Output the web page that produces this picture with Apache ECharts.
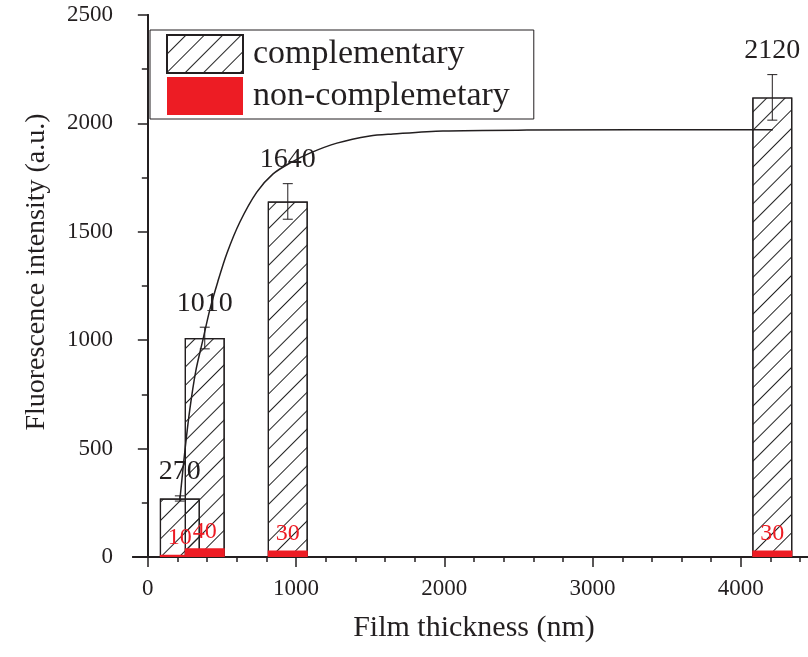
<!DOCTYPE html>
<html>
<head>
<meta charset="utf-8">
<title>Fluorescence intensity vs film thickness</title>
<script src="https://cdn.jsdelivr.net/npm/echarts@6/dist/echarts.min.js"></script>
<style>
  html, body { margin: 0; padding: 0; background: #fff; }
  #chart { width: 808px; height: 657px; }
</style>
</head>
<body>
<div id="chart"></div>
<script>
// film thickness of each sample (nm)
var thickness = [216, 384, 944, 4212];
// hatched bars + their error
var complementary = [270, 1010, 1640, 2120];
var complementaryErr = [12, 50, 82, 105];
// red bars
var nonComplementary = [10, 40, 30, 30];
// fitted curve, points
var fitX = [216, 250, 283, 324, 371, 418, 472, 533, 621, 735, 843, 958, 1093, 1275, 1497, 1653, 1990, 2557, 4216];
var fitY = [263, 490, 680, 860, 1000, 1140, 1270, 1400, 1545, 1683, 1766, 1817, 1863, 1909, 1942, 1951, 1965, 1969, 1971];
// tick labels
var xTicks = [0, 1000, 2000, 3000, 4000];
var yTicks = [0, 500, 1000, 1500, 2000, 2500];

var FONT = '"Liberation Serif", "Times New Roman", serif';
var INK = '#231f20';

var chartDom = document.getElementById('chart');
var myChart = echarts.init(chartDom);

var barData = [], redData = [], errData = [], fitData = [];
for (var i = 0; i < thickness.length; i++) {
  barData.push([thickness[i], complementary[i]]);
  redData.push([thickness[i], nonComplementary[i]]);
  errData.push([thickness[i], complementary[i], complementaryErr[i]]);
}
for (var j = 0; j < fitX.length; j++) {
  fitData.push([fitX[j], fitY[j]]);
}

function renderErr(params, api) {
  var x = api.value(0), y = api.value(1), e = api.value(2);
  var top = api.coord([x, y + e]);
  var bot = api.coord([x, y - e]);
  var half = 5;
  var st = { stroke: INK, lineWidth: 1 };
  return {
    type: 'group',
    children: [
      { type: 'line', shape: { x1: top[0], y1: top[1], x2: bot[0], y2: bot[1] }, style: st },
      { type: 'line', shape: { x1: top[0] - half, y1: top[1], x2: top[0] + half, y2: top[1] }, style: st },
      { type: 'line', shape: { x1: bot[0] - half, y1: bot[1], x2: bot[0] + half, y2: bot[1] }, style: st },
      {
        type: 'text', x: top[0], y: top[1] - 10,
        style: { text: String(y), fill: INK, fontSize: 28, fontFamily: FONT, align: 'center', verticalAlign: 'bottom' }
      }
    ]
  };
}

var hatch = {
  symbol: 'rect',
  symbolSize: 1,
  dashArrayX: [1, 0],
  dashArrayY: [1, 12],
  rotation: -Math.PI / 4,
  color: '#222',
  backgroundColor: 'rgba(255,255,255,0)'
};

function plain(v) { return String(v); }

var option = {
  animation: false,
  backgroundColor: '#fff',
  textStyle: { fontFamily: FONT },
  grid: { left: 133, top: 15, right: -7, bottom: 100, outerBoundsMode: 'none' },
  legend: {
    left: 150,
    top: 30,
    orient: 'vertical',
    itemWidth: 76,
    itemHeight: 38,
    itemGap: 3,
    padding: [4, 24, 4, 16],
    borderColor: INK,
    borderWidth: 1,
    icon: 'rect',
    textStyle: { fontSize: 34, color: INK, fontFamily: FONT, padding: [0, 0, 0, 5] },
    data: ['complementary', 'non-complemetary']
  },
  xAxis: [
    {
      type: 'value',
      min: -100,
      max: 4500,
      name: 'Film thickness (nm)',
      nameLocation: 'middle',
      nameGap: 56,
      nameTextStyle: { fontSize: 30, color: INK, fontFamily: FONT },
      axisLine: { show: true, lineStyle: { color: INK, width: 2 } },
      axisTick: { show: true, length: 10, customValues: xTicks, lineStyle: { color: INK, width: 1.5 } },
      minorTick: { show: true, splitNumber: 5, length: 5, lineStyle: { color: INK, width: 1.5 } },
      axisLabel: { fontSize: 23, color: INK, fontFamily: FONT, margin: 20, customValues: xTicks, formatter: plain },
      splitLine: { show: false }
    },
    {
      type: 'value',
      position: 'top',
      min: -100,
      max: 4500,
      axisLine: { show: true, lineStyle: { color: INK, width: 2 } },
      axisTick: { show: true, inside: true, length: 10, customValues: xTicks, lineStyle: { color: INK, width: 1.5 } },
      minorTick: { show: true, splitNumber: 5, length: 5, lineStyle: { color: INK, width: 1.5 } },
      axisLabel: { show: false },
      splitLine: { show: false }
    }
  ],
  yAxis: [
    {
      type: 'value',
      min: 0,
      max: 2500,
      interval: 500,
      name: 'Fluorescence intensity (a.u.)',
      nameLocation: 'middle',
      nameGap: 82,
      nameTextStyle: { fontSize: 28, color: INK, fontFamily: FONT, padding: [0, 0, 0, 28] },
      axisLine: { show: true, lineStyle: { color: INK, width: 2 } },
      axisTick: { show: true, length: 10, lineStyle: { color: INK, width: 1.5 } },
      minorTick: { show: true, splitNumber: 2, length: 6, lineStyle: { color: INK, width: 1.5 } },
      axisLabel: { fontSize: 23, color: INK, fontFamily: FONT, margin: 20, customValues: yTicks, formatter: plain },
      splitLine: { show: false }
    },
    {
      type: 'value',
      position: 'right',
      min: 0,
      max: 2500,
      interval: 500,
      axisLine: { show: true, lineStyle: { color: INK, width: 2 } },
      axisTick: { show: true, inside: true, length: 10, lineStyle: { color: INK, width: 1.5 } },
      minorTick: { show: true, splitNumber: 2, length: 6, lineStyle: { color: INK, width: 1.5 } },
      axisLabel: { show: false },
      splitLine: { show: false }
    }
  ],
  series: [
    {
      name: 'complementary',
      type: 'bar',
      barWidth: 40,
      z: 2,
      itemStyle: { color: 'rgba(255,255,255,0)', borderColor: INK, borderWidth: 1.2, decal: hatch },
      data: barData
    },
    {
      name: 'non-complemetary',
      type: 'bar',
      barWidth: 40,
      barGap: '-100%',
      z: 3,
      itemStyle: { color: '#ed1c24' },
      label: { show: true, position: 'top', distance: 5, color: '#ed1c24', fontSize: 24, fontFamily: FONT,
        formatter: function (p) { return p.value[1]; } },
      data: redData
    },
    {
      name: 'fit',
      type: 'line',
      smooth: 0.3,
      symbol: 'none',
      z: 4,
      lineStyle: { color: INK, width: 1.5 },
      data: fitData
    },
    {
      name: 'error',
      type: 'custom',
      z: 5,
      renderItem: renderErr,
      data: errData
    }
  ]
};

option && myChart.setOption(option);
</script>
</body>
</html>
